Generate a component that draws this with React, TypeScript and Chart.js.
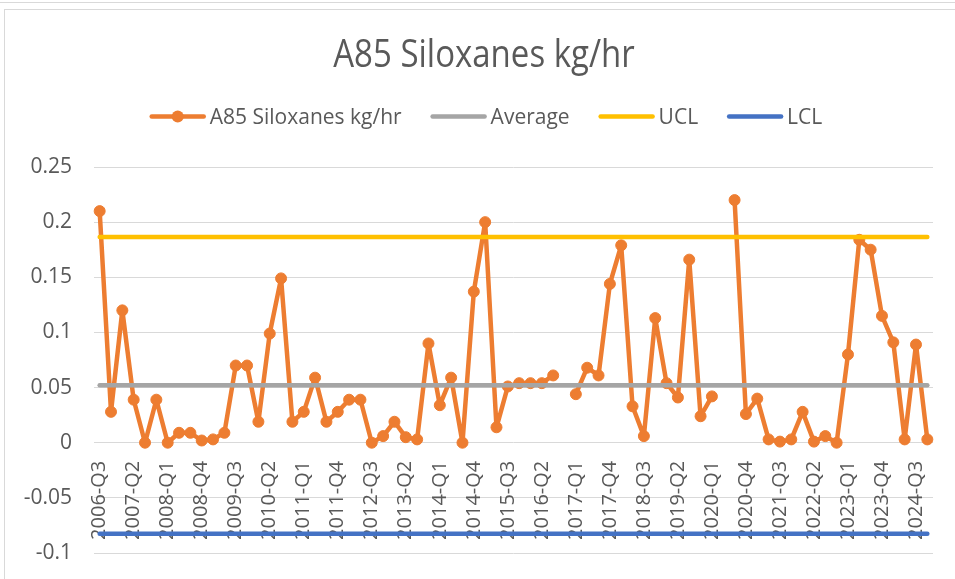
import React, { useEffect, useRef } from "react";
import { Chart, registerables } from "chart.js";

Chart.register(...registerables);

const TITLE = "A85 Siloxanes kg/hr";

const quarters = [
  "2006-Q3", "2006-Q4",
  "2007-Q1", "2007-Q2", "2007-Q3", "2007-Q4",
  "2008-Q1", "2008-Q2", "2008-Q3", "2008-Q4",
  "2009-Q1", "2009-Q2", "2009-Q3", "2009-Q4",
  "2010-Q1", "2010-Q2", "2010-Q3", "2010-Q4",
  "2011-Q1", "2011-Q2", "2011-Q3", "2011-Q4",
  "2012-Q1", "2012-Q2", "2012-Q3", "2012-Q4",
  "2013-Q1", "2013-Q2", "2013-Q3", "2013-Q4",
  "2014-Q1", "2014-Q2", "2014-Q3", "2014-Q4",
  "2015-Q1", "2015-Q2", "2015-Q3", "2015-Q4",
  "2016-Q1", "2016-Q2", "2016-Q3", "2016-Q4",
  "2017-Q1", "2017-Q2", "2017-Q3", "2017-Q4",
  "2018-Q1", "2018-Q2", "2018-Q3", "2018-Q4",
  "2019-Q1", "2019-Q2", "2019-Q3", "2019-Q4",
  "2020-Q1", "2020-Q2", "2020-Q3", "2020-Q4",
  "2021-Q1", "2021-Q2", "2021-Q3", "2021-Q4",
  "2022-Q1", "2022-Q2", "2022-Q3", "2022-Q4",
  "2023-Q1", "2023-Q2", "2023-Q3", "2023-Q4",
  "2024-Q1", "2024-Q2", "2024-Q3", "2024-Q4",
];

const siloxanes: (number | null)[] = [
  0.21, 0.028,
  0.12, 0.039, 0.0, 0.039,
  0.0, 0.009, 0.009, 0.002,
  0.003, 0.009, 0.07, 0.07,
  0.019, 0.099, 0.149, 0.019,
  0.028, 0.059, 0.019, 0.028,
  0.039, 0.039, 0.0, 0.006,
  0.019, 0.005, 0.003, 0.09,
  0.034, 0.059, 0.0, 0.137,
  0.2, 0.014, 0.051, 0.054,
  0.054, 0.054, 0.061, null,
  0.044, 0.068, 0.061, 0.144,
  0.179, 0.033, 0.006, 0.113,
  0.054, 0.041, 0.166, 0.024,
  0.042, null, 0.22, 0.026,
  0.04, 0.003, 0.001, 0.003,
  0.028, 0.001, 0.006, 0.0,
  0.08, 0.184, 0.175, 0.115,
  0.091, 0.003, 0.089, 0.003,
];

const AVERAGE = 0.052;
const UCL = 0.1865;
const LCL = -0.0825;

const seriesNames = ["A85 Siloxanes kg/hr", "Average", "UCL", "LCL"];
const seriesColors = ["#ED7D31", "#A5A5A5", "#FFC000", "#4472C4"];

const Y_MIN = -0.1;
const Y_MAX = 0.25;
const Y_STEP = 0.05;

const FONT = '"Open Sans", "Noto Sans", sans-serif';
const TEXT = "#595959";

export default function App() {
  const ref = useRef<HTMLCanvasElement>(null);

  useEffect(() => {
    if (!ref.current) return;

    const headerPlugin = {
      id: "header",
      afterDraw(chart: any) {
        const ctx = chart.ctx;
        ctx.save();
        ctx.fillStyle = TEXT;
        ctx.font = `33px ${FONT}`;
        ctx.textAlign = "center";
        ctx.textBaseline = "alphabetic";
        ctx.save();
        ctx.translate(484, 67);
        ctx.scale(1, 1.17);
        ctx.fillText(TITLE, 0, 0);
        ctx.restore();

        ctx.font = `21px ${FONT}`;
        const sw = 56, g1 = 4, g2 = 29;
        const widths = seriesNames.map((n) => ctx.measureText(n).width);
        const total =
          widths.reduce((a, w) => a + sw + g1 + w, 0) + g2 * (seriesNames.length - 1);
        let x = 486 - total / 2;
        const ly = 116.5;
        seriesNames.forEach((n, i) => {
          ctx.strokeStyle = seriesColors[i];
          ctx.lineWidth = 4.5;
          ctx.lineCap = "round";
          ctx.beginPath();
          ctx.moveTo(x + 2, ly);
          ctx.lineTo(x + sw - 2, ly);
          ctx.stroke();
          if (i === 0) {
            ctx.fillStyle = seriesColors[0];
            ctx.beginPath();
            ctx.arc(x + sw / 2, ly, 6, 0, Math.PI * 2);
            ctx.fill();
          }
          ctx.fillStyle = TEXT;
          ctx.textAlign = "left";
          ctx.fillText(n, x + sw + g1, 123.5);
          x += sw + g1 + widths[i] + g2;
        });
        ctx.restore();
      },
    };

    const refLine = (label: string, value: number, color: string, order: number) => ({
      label,
      data: quarters.map(() => value),
      borderColor: color,
      backgroundColor: color,
      borderWidth: 4.5,
      borderCapStyle: "round" as const,
      pointRadius: 0,
      pointHoverRadius: 0,
      fill: false,
      order,
    });

    const chart = new Chart(ref.current, {
      type: "line",
      data: {
        labels: quarters,
        datasets: [
          {
            label: seriesNames[0],
            data: siloxanes,
            borderColor: seriesColors[0],
            backgroundColor: seriesColors[0],
            borderWidth: 4.5,
            borderJoinStyle: "round",
            borderCapStyle: "round",
            pointRadius: 5.5,
            pointBorderWidth: 1,
            pointBackgroundColor: seriesColors[0],
            pointBorderColor: seriesColors[0],
            spanGaps: false,
            fill: false,
            order: 4,
          },
          refLine(seriesNames[1], AVERAGE, seriesColors[1], 3),
          refLine(seriesNames[2], UCL, seriesColors[2], 2),
          refLine(seriesNames[3], LCL, seriesColors[3], 1),
        ],
      },
      options: {
        animation: false,
        responsive: false,
        maintainAspectRatio: false,
        layout: { padding: { top: 167, right: 22, bottom: 26, left: 0 } },
        plugins: {
          legend: { display: false },
          title: { display: false },
          tooltip: { enabled: false },
        },
        scales: {
          x: {
            type: "category",
            position: { y: 0 } as any,
            offset: true,
            grid: { display: false, drawTicks: false },
            border: { display: false },
            afterFit: (s: any) => {
              s.paddingLeft = 0;
              s.paddingRight = 0;
              s.paddingTop = 0;
              s.paddingBottom = 0;
            },
            ticks: {
              autoSkip: false,
              maxRotation: 90,
              minRotation: 90,
              padding: 18,
              color: TEXT,
              font: { family: FONT, size: 20 },
              callback: (_v: any, i: number) => (i % 3 === 0 ? quarters[i] : ""),
            },
          },
          y: {
            min: Y_MIN,
            max: Y_MAX,
            afterFit: (s: any) => {
              s.width = 94;
              s.paddingTop = 0;
              s.paddingBottom = 0;
            },
            grid: { color: "#d9d9d9", lineWidth: 1, drawTicks: false },
            border: { display: false },
            ticks: {
              stepSize: Y_STEP,
              padding: 22,
              color: TEXT,
              font: { family: FONT, size: 21 },
              callback: (v: any) => String(parseFloat(Number(v).toFixed(2))),
            },
          },
        },
      },
      plugins: [headerPlugin],
    });

    return () => chart.destroy();
  }, []);

  return (
    <div style={{ position: "absolute", left: 0, top: 0, width: 955, height: 579, background: "#fff", overflow: "hidden" }}>
      <div style={{ position: "absolute", left: 0, top: 2, width: 955, height: 0, borderTop: "1px solid #d9d9d9" }} />
      <div
        style={{
          position: "absolute",
          left: 4,
          top: 9,
          width: 1000,
          height: 600,
          borderTop: "1px solid #d9d9d9",
          borderLeft: "1px solid #d9d9d9",
        }}
      />
      <canvas ref={ref} width={955} height={579} style={{ position: "absolute", left: 0, top: 0, width: 955, height: 579 }} />
    </div>
  );
}
